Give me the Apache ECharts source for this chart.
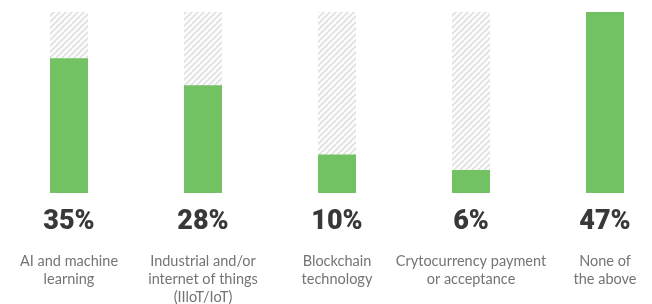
<!DOCTYPE html>
<html>
<head>
<meta charset="utf-8">
<script src="https://cdn.jsdelivr.net/npm/echarts@6/dist/echarts.min.js"></script>
<style>
  html, body { margin: 0; padding: 0; background: #fff; }
  #main { width: 652px; height: 304px; }
</style>
</head>
<body>
<div id="main"></div>
<script>
// survey answers
var categories = [
    'AI and machine\nlearning',
    'Industrial and/or\ninternet of things\n(IIloT/IoT)',
    'Blockchain\ntechnology',
    'Crytocurrency payment\nor acceptance',
    'None of\nthe above'
]
var values = [35, 28, 10, 6, 47]
var maxValue = 47

// diagonal hatch for the empty part of each bar
function makeHatch() {
    var n = 6
    var c = document.createElement('canvas')
    c.width = n
    c.height = n
    var ctx = c.getContext('2d')
    ctx.fillStyle = '#fff'
    ctx.fillRect(0, 0, n, n)
    ctx.strokeStyle = '#e4e4e4'
    ctx.lineWidth = 2.2
    ctx.beginPath()
    ctx.moveTo(-1, n + 1); ctx.lineTo(n + 1, -1)
    ctx.moveTo(-1, 1); ctx.lineTo(1, -1)
    ctx.moveTo(n - 1, n + 1); ctx.lineTo(n + 1, n - 1)
    ctx.stroke()
    return c
}

var chart = echarts.init(document.getElementById('main'))

chart.setOption({
    backgroundColor: '#fff',
    animation: false,
    grid: { left: 2, top: 12, width: 670, bottom: 111, outerBoundsMode: 'none' },
    xAxis: {
        type: 'category',
        data: categories,
        axisLine: { show: false },
        axisTick: { show: false },
        axisLabel: {
            margin: 14,
            interval: 0,
            formatter: function (name, i) {
                return '{pct|' + values[i] + '%}\n{gap| }\n' +
                    name.split('\n').map(function (s) { return '{name|' + s + '}' }).join('\n')
            },
            rich: {
                pct: {
                    fontFamily: 'Roboto',
                    fontWeight: 900,
                    fontSize: 27,
                    lineHeight: 30,
                    color: '#383838'
                },
                gap: { fontSize: 10, lineHeight: 15 },
                name: {
                    fontFamily: 'Lato',
                    fontSize: 14.5,
                    lineHeight: 18,
                    color: '#747474'
                }
            }
        }
    },
    yAxis: {
        type: 'value',
        min: 0,
        max: maxValue,
        show: false,
        splitLine: { show: false }
    },
    series: [{
        type: 'bar',
        data: values,
        barWidth: 38,
        itemStyle: { color: '#72c264' },
        showBackground: true,
        backgroundStyle: {
            color: { image: makeHatch(), repeat: 'repeat' }
        }
    }]
})
</script>
</body>
</html>
